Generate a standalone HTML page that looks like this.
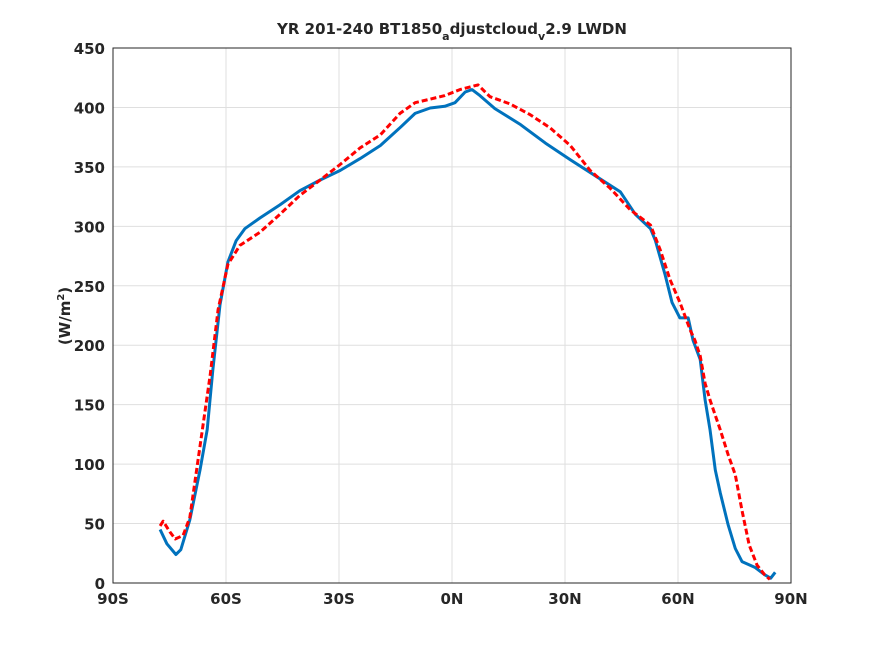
<!DOCTYPE html>
<html><head><meta charset="utf-8"><style>
body{margin:0;background:#fff;}
svg text{font-family:"DejaVu Sans","Liberation Sans",sans-serif;font-weight:bold;fill:#262626;}
</style></head><body>
<svg id="chart" width="875" height="656" viewBox="0 0 875 656">
<rect width="875" height="656" fill="#fff"/>
<g id="grid"></g><g id="axes"></g><g id="series"></g>
<text x="452" y="34" text-anchor="middle" font-size="15">YR 201-240 BT1850<tspan font-size="11" dy="6">a</tspan><tspan dy="-6">djustcloud</tspan><tspan font-size="11" dy="6">v</tspan><tspan dy="-6">2.9 LWDN</tspan></text>
<text transform="translate(70,316) rotate(-90)" text-anchor="middle" font-size="15">(W/m<tspan font-size="10" dy="-6">2</tspan><tspan dy="6">)</tspan></text>
</svg>
<script>
const xTicks=[-90,-60,-30,0,30,60,90];
const xTickLabels=["90S","60S","30S","0N","30N","60N","90N"];
const yTicks=[0,50,100,150,200,250,300,350,400,450];
const blueLat=[-77.5,-75.7,-73.3,-72,-69.6,-66.9,-65,-63.5,-61.6,-59.5,-57.3,-55,-51,-45.7,-40.4,-35,-29.7,-24.4,-19,-13.8,-9.8,-5.8,-1.9,0.8,3.5,5.3,7.4,11.4,18,24.8,31.4,39.3,44.7,48.7,52.7,54,56.6,58.4,60.5,62.7,64,65.9,67.2,68.5,69.9,71.2,73.3,75.2,77,80.5,83,84.6,85.8];
const blueVal=[45,33,24,28,53,95,129,179,234,270,288,298,307,318,330,339,347,357,368,383,395,399.5,401,404,413,415,410,399,386,370,356,340,329,310,298,288,259,236,223,223,204,188,154,129,95,76,49,29,18,13,7,4,9];
const redLat=[-77.5,-76.7,-74.9,-73.5,-71.4,-69.6,-66.9,-64.2,-62.1,-59.5,-56.3,-51,-45.7,-40.4,-35,-29.7,-24.4,-19,-13.8,-9.8,-5.8,-1.9,2.1,6.9,10.1,15.4,20.7,26,31.4,36.7,42,47.3,52.7,55.3,57.9,60.5,63.2,64.5,65.9,67.2,68.5,69.9,71.2,73.3,75.2,77,78.9,81,83,84.4];
const redVal=[48,52,43,37,40,55,115,175,230,268,284,295,310,326,339,352,366,377,395,404,407,410,415,419,409,403,394,383,368,347,332,314,301,280,255,236,213,204,191,168,154,141,129,108,91,61,32,15,7,3];
const X0=113,X1=791,Y0=583,Y1=48;
const sx=v=>X0+(v+90)*(X1-X0)/180;
const sy=v=>Y0-v*(Y0-Y1)/450;
const NS="http://www.w3.org/2000/svg";
function mk(t,a,p){const e=document.createElementNS(NS,t);for(const k in a)e.setAttribute(k,a[k]);p.appendChild(e);return e;}
const grid=document.getElementById('grid'),axes=document.getElementById('axes'),series=document.getElementById('series');
xTicks.forEach((t,i)=>{
 const g=mk('line',{x1:sx(t),x2:sx(t),y1:Y1,y2:Y0,stroke:'#dfdfdf','stroke-width':1},grid);
 
 
 const tx=mk('text',{x:sx(t),y:Y0+21,'text-anchor':'middle','font-size':15},axes);
 tx.textContent=xTickLabels[i];
 
 
});
yTicks.forEach(t=>{
 const g=mk('line',{x1:X0,x2:X1,y1:sy(t),y2:sy(t),stroke:'#dfdfdf','stroke-width':1},grid);
 
 
 const tx=mk('text',{x:X0-8,y:sy(t)+6,'text-anchor':'end','font-size':15},axes);
 tx.textContent=t;
 
 
});
const box=mk('rect',{x:X0,y:Y1,width:X1-X0,height:Y0-Y1,fill:'none',stroke:'#262626','stroke-width':1},axes);


function line(lat,val,color,dash,name){
 const d=lat.map((v,i)=>(i?'L':'M')+sx(v).toFixed(1)+','+sy(val[i]).toFixed(1)).join('');
 const p=mk('path',{d:d,fill:'none',stroke:color,'stroke-width':3,'stroke-linejoin':'round'},series);
 if(dash)p.setAttribute('stroke-dasharray',dash);
 
 
}
line(blueLat,blueVal,'#0072bd',null,'blue-series-line');
line(redLat,redVal,'#ff0000','6 3','red-series-line');
</script>
</body></html>
